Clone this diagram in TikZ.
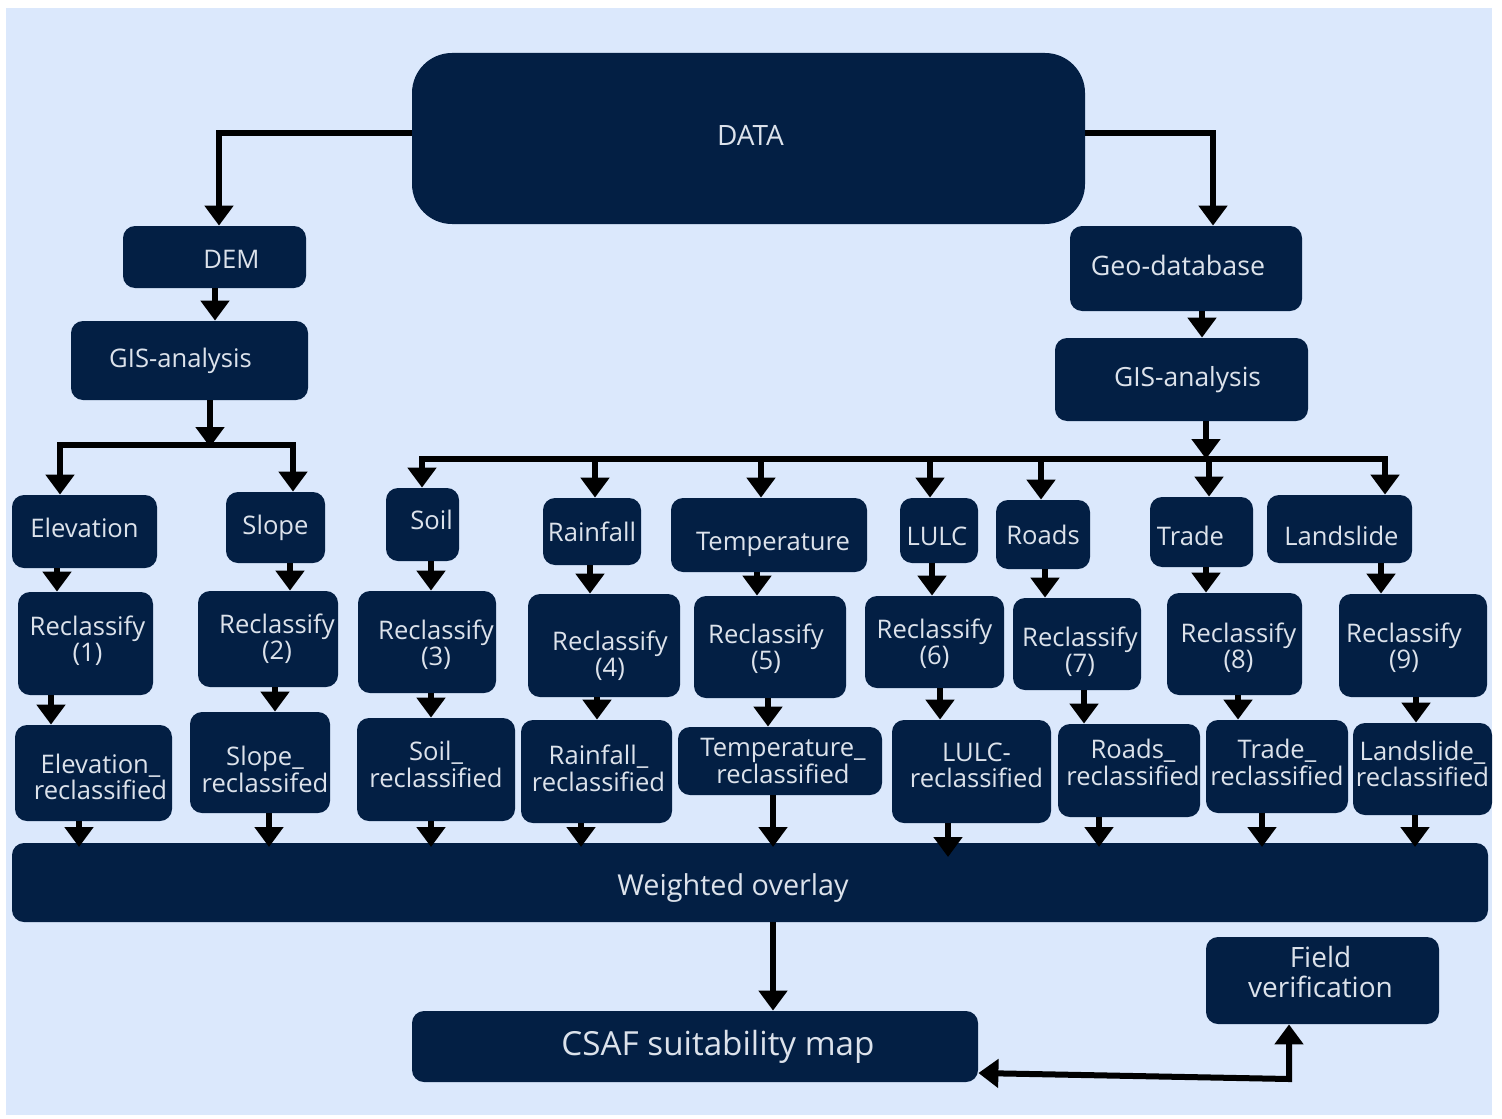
\documentclass[tikz,border=0pt]{standalone}
\usepackage{fontspec}
\setmainfont{Open Sans}
\usetikzlibrary{arrows.meta}
\definecolor{bgblue}{RGB}{219,232,252}
\definecolor{navy}{RGB}{3,31,68}
\definecolor{txt}{RGB}{220,226,235}
\tikzset{
 box/.style={fill=navy, rounded corners=6pt, text=txt, align=center, inner sep=0pt, font=\fontsize{12.8}{13.2}\selectfont},
 ln/.style={line width=3pt, draw=black},
 arr/.style={ln, -{Triangle[width=14pt,length=10pt]}},
 arrb/.style={ln, {Triangle[width=14pt,length=10pt]}-{Triangle[width=14pt,length=10pt]}},
}
\newcommand\bx[7][]{\node[box,minimum width={(#5-#3)*0.5pt},minimum height={(#6-#4)*0.5pt},#1] (#2) at ({(#3+#5)/2},{(#4+#6)/2}) {#7};}
\newcommand\sh[3]{\raisebox{#2}[\height][\depth]{\hspace*{#1}#3\hspace*{-#1}}}
\begin{document}
\begin{tikzpicture}[x=0.5pt,y=-0.5pt]
\useasboundingbox[fill=white] (0,0) rectangle (1502,1118);
\fill[bgblue] (6,8) rectangle (1492,1115);
% top
\bx[rounded corners=20pt,font=\fontsize{14}{16}\selectfont]{data}{412}{53}{1085}{224}{\sh{1pt}{1.5pt}{DATA}}
\bx{dem}{123}{226}{306}{288}{\sh{8.5pt}{-1pt}{DEM}}
\bx{gisL}{71}{321}{308}{400}{\sh{-4.5pt}{0pt}{GIS-analysis}}
\bx[font=\fontsize{13.4}{15}\selectfont]{geo}{1070}{226}{1302}{311}{\sh{-4pt}{1.5pt}{Geo-database}}
\bx[font=\fontsize{13.2}{15}\selectfont]{gisR}{1055}{338}{1308}{421}{\sh{3pt}{0pt}{GIS-analysis}}
% row 1
\bx{elev}{12}{495}{157}{568}{\sh{0pt}{2pt}{Elevation}}
\bx{slope}{226}{492}{325}{563}{Slope}
\bx{soil}{386}{488}{459}{561}{\sh{4.5pt}{2.5pt}{Soil}}
\bx{rain}{543}{498}{641}{565}{Rainfall}
\bx{temp}{671}{498}{867}{572}{\sh{2pt}{-4.5pt}{Temperature}}
\bx{lulc}{900}{498}{978}{563}{\sh{-1pt}{-3pt}{LULC}}
\bx{roads}{996}{500}{1090}{569}{Roads}
\bx{trade}{1150}{497}{1253}{567}{\sh{-5.5pt}{-2pt}{Trade}}
\bx{land}{1267}{495}{1412}{563}{\sh{1pt}{-3.5pt}{Landslide}}
% row 2
\bx{ra}{18}{592}{153}{695}{\sh{1pt}{1.5pt}{Reclassify}\\\sh{1pt}{1.5pt}{(1)}}
\bx{rb}{198}{591}{338}{687}{\sh{4.5pt}{0pt}{Reclassify}\\\sh{4.5pt}{0pt}{(2)}}
\bx{rc}{358}{591}{496}{693}{\sh{4.5pt}{-1.5pt}{Reclassify}\\\sh{4.5pt}{-1.5pt}{(3)}}
\bx{rd}{528}{594}{680}{697}{\sh{3pt}{-5pt}{Reclassify}\\\sh{3pt}{-5pt}{(4)}}
\bx{re}{694}{596}{846}{698}{\sh{-2pt}{-1pt}{Reclassify}\\\sh{-2pt}{-1pt}{(5)}}
\bx{rf}{865}{596}{1004}{688}{\sh{0pt}{-1pt}{Reclassify}\\\sh{0pt}{-1pt}{(6)}}
\bx{rg}{1013}{598}{1141}{690}{\sh{1.5pt}{-4pt}{Reclassify}\\\sh{1.5pt}{-4pt}{(7)}}
\bx{rh}{1167}{593}{1302}{695}{\sh{2pt}{-2pt}{Reclassify}\\\sh{2pt}{-2pt}{(8)}}
\bx{ri}{1339}{594}{1487}{697}{\sh{-4.5pt}{-1pt}{Reclassify}\\\sh{-4.5pt}{-1pt}{(9)}}
% row 3
\bx{ca}{15}{725}{172}{821}{\sh{3.5pt}{-2pt}{Elevation\_}\\\sh{3.5pt}{-2pt}{reclassified}}
\bx{cb}{190}{712}{330}{813}{\sh{2.5pt}{-3.5pt}{Slope\_}\\\sh{2.5pt}{-3.5pt}{reclassifed}}
\bx{cc}{357}{718}{515}{821}{\sh{0pt}{2.5pt}{Soil\_}\\\sh{0pt}{2.5pt}{reclassified}}
\bx{cd}{521}{720}{672}{823}{\sh{1pt}{1.5pt}{Rainfall\_}\\\sh{1pt}{1.5pt}{reclassified}}
\bx{ce}{678}{727}{882}{795}{\sh{1.5pt}{0pt}{Temperature\_}\\\sh{1.5pt}{0pt}{reclassified}}
\bx{cf}{892}{720}{1051}{823}{\sh{2.5pt}{3pt}{LULC-}\\\sh{2.5pt}{3pt}{reclassified}}
\bx{cg}{1058}{724}{1200}{817}{\sh{2pt}{4pt}{Roads\_}\\\sh{2pt}{4pt}{reclassified}}
\bx{ch}{1206}{720}{1348}{813}{\sh{0pt}{2pt}{Trade\_}\\\sh{0pt}{2pt}{reclassified}}
\bx{ci}{1353}{723}{1492}{815}{\sh{0pt}{2.5pt}{Landslide\_}\\\sh{0pt}{2.5pt}{reclassified}}
% bottom
\bx[font=\fontsize{14.4}{16}\selectfont]{wo}{12}{843}{1488}{922}{\sh{-8.5pt}{-3pt}{Weighted overlay}}
\bx[font=\fontsize{16.6}{18}\selectfont]{csaf}{412}{1011}{978}{1082}{\sh{11.5pt}{0pt}{CSAF suitability map}}
\bx[font=\fontsize{14}{15}\selectfont]{field}{1206}{937}{1439}{1024}{\sh{-1pt}{4.5pt}{Field}\\\sh{-1pt}{4.5pt}{verification}}
% connectors top
\draw[arr] (data.west |- 0,133) -| (dem.north -| 219,0);
\draw[arr] (data.east |- 0,133) -| (geo.north -| 1213,0);
\draw[arr] (dem.south -| 215,0) -- (gisL.north -| 215,0);
\draw[arr] (geo.south -| 1202,0) -- (gisR.north -| 1202,0);
% left branch
\coordinate (hl) at (60,445);
\coordinate (hr) at (293,445);
\coordinate (hm) at (210,447);
\draw[arr] (gisL.south -| hm) -- (hm);
\draw[arr] (hr) -- (hl) -- (elev.north -| hl);
\draw[arr] (hl) -- (hr) -- (slope.north -| hr);
% right branch
\coordinate (gl) at (422,459);
\coordinate (gr) at (1385,459);
\coordinate (gm) at (1206,459);
\draw[arr] (gisR.south -| gm) -- (gm);
\draw[arr] (gr) -- (gl) -- (soil.north -| gl);
\draw[arr] (gl) -- (gr) -- (land.north -| gr);
\foreach \n/\x in {rain/595,temp/761,lulc/930,roads/1041,trade/1209}
  \draw[arr] (\x,459) -- (\n.north -| \x,0);
% to reclassify
\foreach \a/\b/\x in {elev/ra/57,slope/rb/290,soil/rc/431,rain/rd/590,temp/re/757,lulc/rf/932,roads/rg/1045,trade/rh/1206,land/ri/1381}
  \draw[arr] (\a.south -| \x,0) -- (\b.north -| \x,0);
% to reclassified
\foreach \a/\b/\x in {ra/ca/51,rb/cb/275,rc/cc/431,rd/cd/597,re/ce/768,rf/cf/940,rg/cg/1084,rh/ch/1238,ri/ci/1416}
  \draw[arr] (\a.south -| \x,0) -- (\b.north -| \x,0);
% to weighted overlay
\foreach \a/\x in {ca/79,cb/269,cc/431,cd/581,ce/773,cg/1099,ch/1262,ci/1415}
  \draw[arr] (\a.south -| \x,0) -- (\x,847);
\draw[arr] (cf.south -| 948,0) -- (948,857);
% bottom
\draw[arr] (wo.south -| 773,0) -- (csaf.north -| 773,0);
\coordinate (fc) at (1289,1079);
\draw[arrb] (csaf.east |- 0,1073) -- (fc) -- (field.south -| fc);
\end{tikzpicture}
\end{document}
